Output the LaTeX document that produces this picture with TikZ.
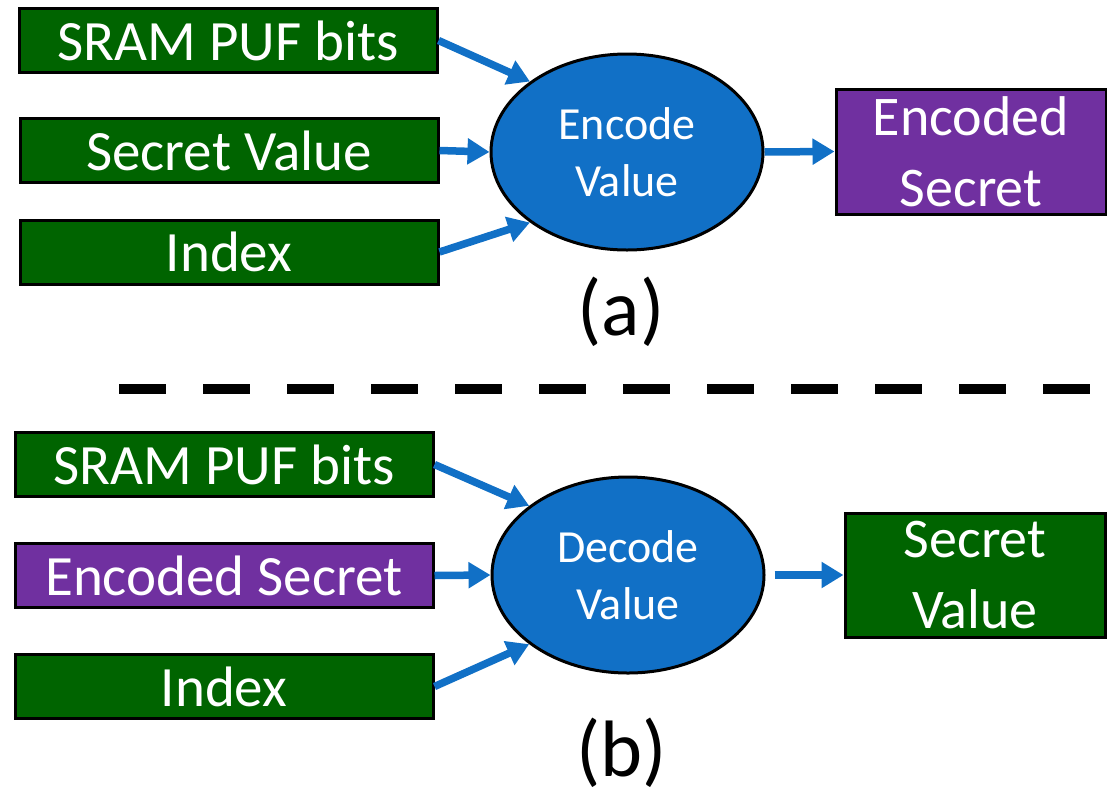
\documentclass[tikz,border=0pt]{standalone}
\usepackage{fontspec}
\setmainfont{Carlito}
\usetikzlibrary{shapes.geometric,arrows.meta}

\definecolor{boxgreen}{HTML}{006400}
\definecolor{boxpurple}{HTML}{7030A0}
\definecolor{flowblue}{HTML}{1170C6}

\tikzset{
  inbox/.style={draw=black, line width=3pt, rectangle, inner sep=0pt,
    minimum width=418pt, minimum height=64pt, text=white,
    font=\fontsize{57}{72}\selectfont},
  greenbox/.style={inbox, fill=boxgreen},
  purplebox/.style={inbox, fill=boxpurple},
  outbox/.style={draw=black, line width=3pt, rectangle, inner sep=0pt,
    text=white, align=center, font=\fontsize{56}{71}\selectfont},
  process/.style={ellipse, draw=black, line width=3pt, fill=flowblue,
    inner sep=0pt, minimum width=272pt, minimum height=196pt,
    text=white, align=center, font=\fontsize{46}{57}\selectfont},
  flow/.style={draw=flowblue, line width=7.5pt,
    -{Triangle[length=22pt,width=25pt]}},
  caption/.style={anchor=base, inner sep=0pt, font=\fontsize{80}{96}\selectfont},
  divider/.style={line width=10pt, dash pattern=on 47pt off 37pt}
}

\begin{document}
\begin{tikzpicture}[x=1pt, y=-1pt]
  \useasboundingbox (0,0) rectangle (1107,790);

  % ---- (a) encoding ----
  \node[greenbox] (a1) at (228,40.5) {SRAM PUF bits};
  \node[greenbox] (a2) at (229,150.5) {Secret Value};
  \node[greenbox] (a3) at (229,252) {Index};
  \node[process] (enc) at (627,152) {Encode\\Value};
  \node[outbox, fill=boxpurple, minimum width=270pt, minimum height=125pt]
    (aout) at (971,151.5) {Encoded\\Secret};

  \draw[flow] (a1.east) -- (enc.144);
  \draw[flow] (a2.east) -- (enc.west);
  \draw[flow] (a3.east) -- (enc.216);
  \draw[flow] (enc.east) -- (aout.west);

  \node[caption] (capa) at (621,335) {(a)};

  % ---- separator ----
  \coordinate (sepL) at (119,389);
  \coordinate (sepR) at (1092,389);
  \draw[divider] (sepL) -- (sepR);

  % ---- (b) decoding ----
  \node[greenbox] (b1) at (224,464.5) {SRAM PUF bits};
  \node[purplebox] (b2) at (224,575.5) {Encoded Secret};
  \node[greenbox] (b3) at (224,686.5) {Index};
  \node[process] (dec) at (628,575) {Decode\\Value};
  \node[outbox, fill=boxgreen, minimum width=260pt, minimum height=124pt]
    (bout) at (975,575) {Secret\\Value};

  \draw[flow] (b1.east) -- (dec.145);
  \draw[flow] (b2.east) -- (dec.west);
  \draw[flow] (b3.east) -- (dec.215);
  \draw[flow, shorten <=9pt] (dec.east) -- (bout.west);

  \node[caption] (capb) at (622,776) {(b)};
\end{tikzpicture}
\end{document}
